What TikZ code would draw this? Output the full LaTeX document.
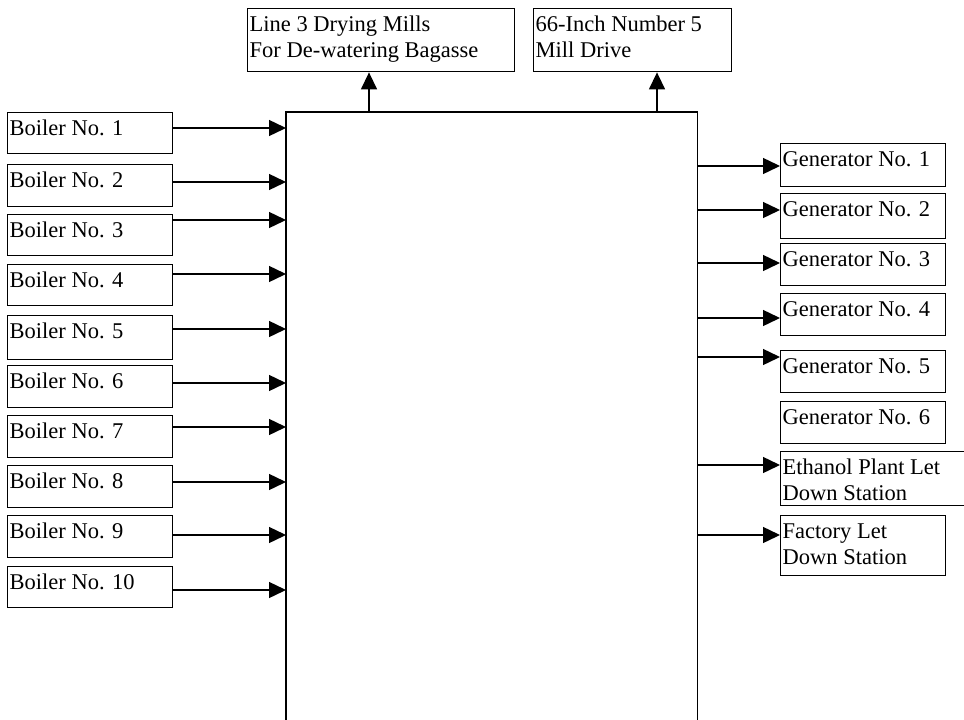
\documentclass[tikz,border=0pt]{standalone}
\usepackage{fontspec}
\setmainfont{Liberation Serif}
\usetikzlibrary{arrows.meta}
\newcommand\boxtext[3]{\parbox[c][#2][t]{#1}{\raggedright\leftskip=2pt\rule{0pt}{23pt}#3}}
\tikzset{
  bx/.style={draw, line width=1.4pt, inner sep=0pt, anchor=north west, font=\fontsize{22.5}{26}\selectfont},
  arr/.style={line width=1.4pt, -{Triangle[length=17pt,width=16pt]}},
  hubline/.style={line width=1.4pt}
}
\begin{document}
\begin{tikzpicture}[x=1pt,y=-1pt]
\useasboundingbox (0,0) rectangle (964,720);
% hub
\node[inner sep=0pt, minimum width=411pt, minimum height=608pt, anchor=north west] (hub) at (286,112) {};
\draw[hubline] (hub.south west) |- (hub.north east) -- (hub.south east);
% top boxes
\node[bx] (l3) at (247,8) {\boxtext{267pt}{63pt}{Line 3 Drying Mills\\For De-watering Bagasse}};
\node[bx] (m66) at (533,8) {\boxtext{198pt}{63pt}{66-Inch Number 5\\Mill Drive}};
\draw[arr] (hub.north -| 369,0) -- (l3.south -| 369,0);
\draw[arr] (hub.north -| 657,0) -- (m66.south -| 657,0);
% boilers
\node[bx] (b1) at (7,112) {\boxtext{165pt}{41pt}{Boiler No. 1}};
\node[bx] (b2) at (7,164) {\boxtext{165pt}{42pt}{Boiler No. 2}};
\node[bx] (b3) at (7,214) {\boxtext{165pt}{41pt}{Boiler No. 3}};
\node[bx] (b4) at (7,264) {\boxtext{165pt}{41pt}{Boiler No. 4}};
\node[bx] (b5) at (7,315) {\boxtext{165pt}{44pt}{Boiler No. 5}};
\node[bx] (b6) at (7,365) {\boxtext{165pt}{42pt}{Boiler No. 6}};
\node[bx] (b7) at (7,415) {\boxtext{165pt}{42pt}{Boiler No. 7}};
\node[bx] (b8) at (7,465) {\boxtext{165pt}{42pt}{Boiler No. 8}};
\node[bx] (b9) at (7,515) {\boxtext{165pt}{42pt}{Boiler No. 9}};
\node[bx] (b10) at (7,566) {\boxtext{165pt}{41pt}{Boiler No. 10}};
\foreach \n/\y in {b1/128,b2/182,b3/220,b4/274,b5/329,b6/383,b7/427,b8/482,b9/535,b10/590}
  \draw[arr] (\n.east |- 0,\y) -- (hub.west |- 0,\y);
% generators
\node[bx] (g1) at (780,143) {\boxtext{165pt}{43pt}{Generator No. 1}};
\node[bx] (g2) at (780,193) {\boxtext{165pt}{45pt}{Generator No. 2}};
\node[bx] (g3) at (780,243) {\boxtext{165pt}{42pt}{Generator No. 3}};
\node[bx] (g4) at (780,293) {\boxtext{165pt}{42pt}{Generator No. 4}};
\node[bx] (g5) at (780,350) {\boxtext{165pt}{42pt}{Generator No. 5}};
\node[bx] (g6) at (780,401) {\boxtext{165pt}{42pt}{Generator No. 6}};
\node[bx] (eth) at (780,451) {\boxtext{200pt}{54pt}{Ethanol Plant Let\\Down Station}};
\node[bx] (fac) at (780,515) {\boxtext{165pt}{60pt}{Factory Let\\Down Station}};
\foreach \n/\y in {g1/166,g2/210,g3/263,g4/318,g5/357,eth/465,fac/535}
  \draw[arr] (hub.east |- 0,\y) -- (\n.west |- 0,\y);
\end{tikzpicture}
\end{document}
